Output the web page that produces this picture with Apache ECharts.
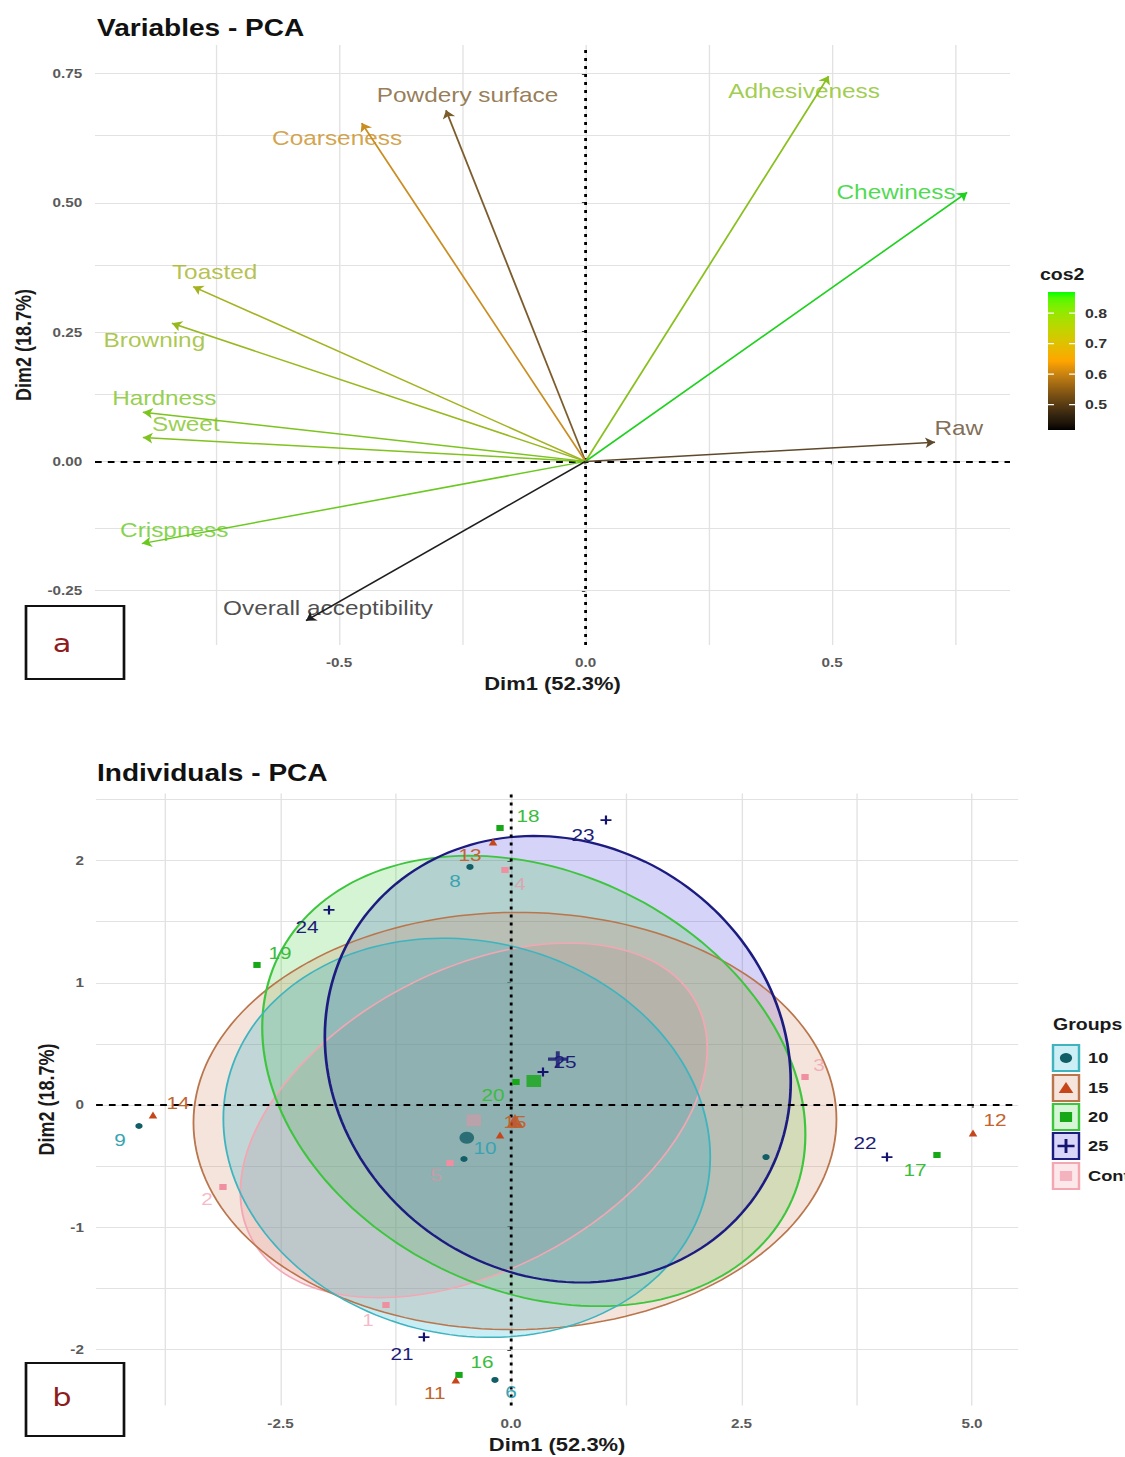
<!DOCTYPE html>
<html lang="en">
<head>
<meta charset="utf-8">
<title>PCA - variables and individuals</title>
<script src="https://cdn.jsdelivr.net/npm/echarts@6.0.0/dist/echarts.min.js"></script>
<style>
  html, body { margin: 0; padding: 0; background: #ffffff; width: 1125px; height: 1457px; overflow: hidden; }
  #chart { width: 922px; height: 1457px; transform: scaleX(1.22); transform-origin: 0 0; }
</style>
</head>
<body>
<div id="chart"></div>
<script>
// The figure is laid out in a narrower space and stretched horizontally by STRETCH.
const STRETCH = 1.22;
const hx = v => v / STRETCH;

// ---------------- Panel a: variables ----------------
const varNames = ['Adhesiveness', 'Chewiness', 'Powdery surface', 'Coarseness', 'Toasted',
  'Browning', 'Hardness', 'Sweet', 'Crispness', 'Overall acceptibility', 'Raw'];
const varDim1 = [0.493, 0.774, -0.283, -0.454, -0.796, -0.839, -0.898, -0.898, -0.900, -0.567, 0.709];
const varDim2 = [0.745, 0.520, 0.679, 0.654, 0.338, 0.267, 0.095, 0.046, -0.159, -0.308, 0.037];

const varXTicks = [-0.5, 0, 0.5];
const varXTickLabels = ['-0.5', '0.0', '0.5'];
const varYTicks = [-0.25, 0, 0.25, 0.5, 0.75];
const varYTickLabels = ['-0.25', '0.00', '0.25', '0.50', '0.75'];
const varGridX = [-0.75, -0.5, -0.25, 0, 0.25, 0.5, 0.75];
const varGridY = [-0.25, -0.125, 0, 0.125, 0.25, 0.375, 0.5, 0.625, 0.75];
const cos2Ticks = [0.5, 0.6, 0.7, 0.8];
const cos2TickLabels = ['0.5', '0.6', '0.7', '0.8'];
const cos2Colours = ['#000000', '#FFA500', '#00FF00'];

// ---------------- Panel b: individuals ----------------
const groupNames = ['10', '15', '20', '25', 'Control'];
const ids10 = [6, 7, 8, 9, 10];
const dim1G10 = [-0.174, 2.766, -0.445, -4.035, -0.510];
const dim2G10 = [-2.250, -0.426, 1.948, -0.172, -0.442];
const ids15 = [11, 12, 13, 14, 15];
const dim1G15 = [-0.599, 5.011, -0.195, -3.883, -0.119];
const dim2G15 = [-2.251, -0.229, 2.152, -0.082, -0.245];
const ids20 = [16, 17, 18, 19, 20];
const dim1G20 = [-0.564, 4.620, -0.119, -2.755, 0.054];
const dim2G20 = [-2.209, -0.409, 2.267, 1.146, 0.188];
const ids25 = [21, 22, 23, 24, 25];
const dim1G25 = [-0.944, 4.078, 1.030, -1.974, 0.347];
const dim2G25 = [-1.899, -0.426, 2.332, 1.596, 0.270];
const idsCtrl = [1, 2, 3, 4, 5];
const dim1Ctrl = [-1.356, -3.124, 3.189, -0.065, -0.662];
const dim2Ctrl = [-1.637, -0.671, 0.229, 1.923, -0.475];

const indXTicks = [-2.5, 0, 2.5, 5];
const indXTickLabels = ['-2.5', '0.0', '2.5', '5.0'];
const indYTicks = [-2, -1, 0, 1, 2];
const indYTickLabels = ['-2', '-1', '0', '1', '2'];
const indGridX = [-3.75, -2.5, -1.25, 0, 1.25, 2.5, 3.75, 5];
const indGridY = [-2, -1.5, -1, -0.5, 0, 0.5, 1, 1.5, 2, 2.5];

// ---------------- layout and style ----------------
const FONT = 'Liberation Sans, Arial, Helvetica, sans-serif';
// label shift from a mark, in figure pixels [dx, dy]
const varLabelShift = [[-24.5, 15], [-71, 0], [21.5, -15], [-24.6, 15], [21.5, -14], [-17.5, 17],
  [21.5, -14], [43, -13], [32.4, -13], [22, -12], [23.7, -13.7]];
const indLabelShift = {
  1: [-18, 15], 2: [-16, 12], 3: [14, -12], 4: [15, 14], 5: [-14, 12],
  6: [16, 12], 7: null, 8: [-15, 14], 9: [-19, 14], 10: [21, -11],
  11: [-21, 13], 12: [22, -13], 13: [-23, 13], 14: [25, -12], 15: [15, -13],
  16: [23, -13], 17: [-22, 15], 18: [28, -12], 19: [23, -12], 20: [-23, 13],
  21: [-22, 17], 22: [-22, -14], 23: [-23, 15], 24: [-22, 17], 25: [22, -10]
};
const PLUS = 'path://M4,0H6V4H10V6H6V10H4V6H0V4H4Z';
const groupLine = ['#3fb4be', '#b9764c', '#3ec53e', '#1c1c80', '#f3a7b3'];
const groupFill = ['#00aacc', '#cf7f55', '#35cc35', '#3a2ee0', '#f2889c'];
const groupLineWidth = [1.5, 1.5, 1.8, 2.2, 1.5];
const groupPoint = ['#125e66', '#c6461a', '#17a817', '#141470', '#ef8fa0'];
const groupText = ['#3aa3b2', '#c2642e', '#3dbb3d', '#1d1d78', 'rgba(238,140,160,0.6)'];
const groupSymbol = ['circle', 'triangle', 'rect', PLUS, 'rect'];
const pointSize = [6, 7, 6, 9, 6];
const meanSize = [12, 14, 12, 16, 12];
// layering of the ellipse fills (bottom first) and of their outlines
const fillOrder = [4, 3, 2, 1, 0];
const outlineOrder = [4, 1, 2, 0, 3];

// ---------------- helpers ----------------
function hexToRgb(h) { const n = parseInt(h.slice(1), 16); return [(n >> 16) & 255, (n >> 8) & 255, n & 255]; }
function rgba(h, a) { const c = hexToRgb(h); return 'rgba(' + c[0] + ',' + c[1] + ',' + c[2] + ',' + a + ')'; }
const toLin = c => { c /= 255; return c <= 0.04045 ? c / 12.92 : Math.pow((c + 0.055) / 1.055, 2.4); };
const fromLin = c => { c = c <= 0.0031308 ? 12.92 * c : 1.055 * Math.pow(Math.max(c, 0), 1 / 2.4) - 0.055; return Math.round(Math.min(1, Math.max(0, c)) * 255); };
const fLab = t => t > 0.008856 ? Math.cbrt(t) : 7.787 * t + 16 / 116;
const fInv = t => t > 0.206893 ? t * t * t : (t - 16 / 116) / 7.787;
function rgbToLab(rgb) {
  const [r, g, b] = rgb.map(toLin);
  const X = (0.4124 * r + 0.3576 * g + 0.1805 * b) / 0.95047;
  const Y = 0.2126 * r + 0.7152 * g + 0.0722 * b;
  const Z = (0.0193 * r + 0.1192 * g + 0.9505 * b) / 1.08883;
  const fx = fLab(X), fy = fLab(Y), fz = fLab(Z);
  return [116 * fy - 16, 500 * (fx - fy), 200 * (fy - fz)];
}
function labToRgb(L, a, b) {
  const fy = (L + 16) / 116, fx = fy + a / 500, fz = fy - b / 200;
  const X = fInv(fx) * 0.95047, Y = fInv(fy), Z = fInv(fz) * 1.08883;
  const r = 3.2406 * X - 1.5372 * Y - 0.4986 * Z;
  const g = -0.9689 * X + 1.8758 * Y + 0.0415 * Z;
  const bb = 0.0557 * X - 0.2040 * Y + 1.0570 * Z;
  return [fromLin(r), fromLin(g), fromLin(bb)];
}
const rgbStr = c => 'rgb(' + c.map(Math.round).join(',') + ')';
const mean = a => a.reduce((s, v) => s + v, 0) / a.length;
function tickFormatter(ticks, labels) {
  return v => { let k = 0, best = Infinity; ticks.forEach((t, i) => { const d = Math.abs(t - v); if (d < best) { best = d; k = i; } }); return labels[k]; };
}

// cos2 of each variable on the Dim1-Dim2 plane, and its colour scale
const cos2 = varDim1.map((x, i) => x * x + varDim2[i] * varDim2[i]);
const cos2Min = Math.min(...cos2), cos2Max = Math.max(...cos2);
const cos2Lab = cos2Colours.map(c => rgbToLab(hexToRgb(c)));
function cos2Rgb(v) {
  let t = (v - cos2Min) / (cos2Max - cos2Min);
  t = Math.min(1, Math.max(0, t));
  const seg = t < 0.5 ? 0 : 1, u = (t - seg * 0.5) / 0.5;
  const A = cos2Lab[seg], B = cos2Lab[seg + 1];
  return labToRgb(A[0] + (B[0] - A[0]) * u, A[1] + (B[1] - A[1]) * u, A[2] + (B[2] - A[2]) * u);
}
const cos2Colour = v => rgbStr(cos2Rgb(v));
// thin arrows and their names are drawn in a softer tone of the same scale
const cos2Ink = v => rgbStr(cos2Rgb(v).map(c => c * 0.7 + 100 * 0.3));

// group data and 95% confidence ellipses around each group mean
const groupIds = [ids10, ids15, ids20, ids25, idsCtrl];
const groupDim1 = [dim1G10, dim1G15, dim1G20, dim1G25, dim1Ctrl];
const groupDim2 = [dim2G10, dim2G15, dim2G20, dim2G25, dim2Ctrl];
const CHI2_95_2DF = 5.991;
function confidenceEllipse(xs, ys, steps) {
  const n = xs.length, mx = mean(xs), my = mean(ys);
  let sxx = 0, syy = 0, sxy = 0;
  for (let i = 0; i < n; i++) { const dx = xs[i] - mx, dy = ys[i] - my; sxx += dx * dx; syy += dy * dy; sxy += dx * dy; }
  const a = sxx / (n - 1) / n, b = sxy / (n - 1) / n, c = syy / (n - 1) / n;
  const l11 = Math.sqrt(a), l21 = b / l11, l22 = Math.sqrt(Math.max(c - l21 * l21, 0));
  const r = Math.sqrt(CHI2_95_2DF);
  const pts = [];
  for (let k = 0; k < steps; k++) {
    const t = 2 * Math.PI * k / steps, u = Math.cos(t), v = Math.sin(t);
    pts.push([mx + r * l11 * u, my + r * (l21 * u + l22 * v)]);
  }
  return pts;
}
const groupMeans = groupDim1.map((xs, g) => [mean(xs), mean(groupDim2[g])]);
const groupEllipses = groupDim1.map((xs, g) => confidenceEllipse(xs, groupDim2[g], 180));

// ---------------- axes ----------------
function makeAxis(isX, gridIndex, min, max, ticks, labels, name, nameGap, labelMargin) {
  const ax = {
    type: 'value', gridIndex, min, max, name, nameLocation: 'middle', nameGap,
    nameTextStyle: { fontFamily: FONT, fontSize: 18, fontWeight: 'bold', color: '#1a1a1a' },
    axisLine: { show: false },
    splitLine: { show: false },
    axisTick: { show: true, customValues: ticks, length: 3, lineStyle: { color: '#444444', width: 2 } },
    axisLabel: { customValues: ticks, formatter: tickFormatter(ticks, labels), fontFamily: FONT, fontSize: 12.5, fontWeight: 'bold', color: '#5a5a5a', margin: labelMargin }
  };
  if (!isX) ax.nameRotate = 90;
  return ax;
}

// ---------------- series ----------------
function gridLineSeries(xi, gx, gy) {
  return {
    type: 'line', xAxisIndex: xi, yAxisIndex: xi, data: [], silent: true,
    markLine: {
      z: 1, silent: true, symbol: ['none', 'none'], label: { show: false }, animation: false,
      lineStyle: { color: '#e2e2e2', width: 1.1, type: 'solid' },
      data: gx.map(v => ({ xAxis: v })).concat(gy.map(v => ({ yAxis: v })))
    }
  };
}
function zeroLineSeries(xi) {
  return {
    type: 'line', xAxisIndex: xi, yAxisIndex: xi, data: [], silent: true,
    markLine: {
      z: 3, silent: true, symbol: ['none', 'none'], label: { show: false }, animation: false,
      data: [
        { xAxis: 0, lineStyle: { color: '#000000', width: 2.3, type: [3, 5] } },
        { yAxis: 0, lineStyle: { color: '#000000', width: 2.2, type: [5.5, 5] } }
      ]
    }
  };
}
function ellipseSeries(order, z, asOutline) {
  return {
    type: 'custom', xAxisIndex: 1, yAxisIndex: 1, z, silent: true,
    data: order.map(g => groupMeans[g].slice()),
    renderItem: (params, api) => {
      const g = order[params.dataIndex];
      return {
        type: 'polygon',
        shape: { points: groupEllipses[g].map(p => api.coord(p)) },
        style: asOutline
          ? { fill: 'none', stroke: groupLine[g], lineWidth: groupLineWidth[g] }
          : { fill: rgba(groupFill[g], 0.21), stroke: 'none' }
      };
    }
  };
}

const series = [];
series.push(gridLineSeries(0, varGridX, varGridY));
series.push(zeroLineSeries(0));
series.push({
  type: 'lines', coordinateSystem: 'cartesian2d', xAxisIndex: 0, yAxisIndex: 0, z: 4,
  symbol: ['none', 'arrow'], symbolSize: 8, silent: true,
  lineStyle: { width: 1.5, opacity: 1 },
  data: varNames.map((n, i) => ({ coords: [[0, 0], [varDim1[i], varDim2[i]]], lineStyle: { color: cos2Ink(cos2[i]) } }))
});
series.push({
  type: 'scatter', xAxisIndex: 0, yAxisIndex: 0, z: 6, symbolSize: 1, silent: true,
  itemStyle: { color: 'rgba(0,0,0,0)' },
  label: { show: true, position: 'inside', formatter: '{b}', fontFamily: FONT, fontSize: 20 },
  data: varNames.map((n, i) => ({
    name: n, value: [varDim1[i], varDim2[i]],
    label: { offset: [hx(varLabelShift[i][0]), varLabelShift[i][1]], color: cos2Ink(cos2[i]) }
  }))
});

series.push(gridLineSeries(1, indGridX, indGridY));
series.push(ellipseSeries(fillOrder, 2, false));
series.push(ellipseSeries(outlineOrder, 2.5, true));
series.push(zeroLineSeries(1));
groupNames.forEach((gName, g) => {
  series.push({
    type: 'scatter', name: gName, xAxisIndex: 1, yAxisIndex: 1, z: 5, silent: true,
    symbol: groupSymbol[g], symbolSize: pointSize[g],
    itemStyle: { color: groupPoint[g], opacity: 1 },
    label: { show: true, position: 'inside', formatter: '{b}', fontFamily: FONT, fontSize: 17, color: groupText[g] },
    data: groupIds[g].map((id, i) => {
      const sh = indLabelShift[id];
      return {
        name: String(id), value: [groupDim1[g][i], groupDim2[g][i]],
        label: sh ? { offset: [hx(sh[0]), sh[1]] } : { show: false }
      };
    })
  });
});
series.push({
  type: 'scatter', xAxisIndex: 1, yAxisIndex: 1, z: 5, silent: true,
  data: groupMeans.map((m, g) => ({
    value: m, symbol: groupSymbol[g], symbolSize: meanSize[g],
    itemStyle: { color: g === 4 ? rgba(groupPoint[g], 0.55) : groupPoint[g] }
  }))
});

// ---------------- annotations and legends ----------------
const graphics = [];
function text(x, y, str, font, fill, align) {
  graphics.push({
    type: 'text', silent: true, z: 10,
    style: { x, y, text: str, font, fill, align: align || 'left', textAlign: align || 'left', verticalAlign: 'middle', textVerticalAlign: 'middle' }
  });
}
text(hx(97), 28, 'Variables - PCA', 'bold 23px ' + FONT, '#111111');
text(hx(97), 773, 'Individuals - PCA', 'bold 23px ' + FONT, '#111111');

// panel tags
[['a', 606, 643], ['b', 1363, 1397]].forEach(([tag, top, cy]) => {
  graphics.push({ type: 'rect', silent: true, z: 10, shape: { x: hx(26), y: top, width: hx(98), height: 73 },
    style: { fill: '#ffffff', stroke: '#111111', lineWidth: 2.2 } });
  text(hx(62), cy, tag, '25px DejaVu Sans, sans-serif', '#8e1c1c', 'center');
});

// cos2 colour bar
const barX = hx(1048), barW = hx(27), barTop = 292, barH = 138;
const barStops = [];
for (let k = 0; k <= 24; k++) { const v = cos2Max - (cos2Max - cos2Min) * k / 24; barStops.push({ offset: k / 24, color: cos2Colour(v) }); }
text(hx(1040), 275, 'cos2', 'bold 16px ' + FONT, '#1a1a1a');
graphics.push({ type: 'rect', silent: true, z: 10, shape: { x: barX, y: barTop, width: barW, height: barH },
  style: { fill: { type: 'linear', x: 0, y: 0, x2: 0, y2: 1, colorStops: barStops } } });
cos2Ticks.forEach((v, i) => {
  const y = barTop + (cos2Max - v) / (cos2Max - cos2Min) * barH;
  graphics.push({ type: 'line', silent: true, z: 11, shape: { x1: barX, y1: y, x2: barX + barW * 0.22, y2: y }, style: { stroke: '#ffffff', lineWidth: 1.2 } });
  graphics.push({ type: 'line', silent: true, z: 11, shape: { x1: barX + barW * 0.78, y1: y, x2: barX + barW, y2: y }, style: { stroke: '#ffffff', lineWidth: 1.2 } });
  text(hx(1085), y, cos2TickLabels[i], 'bold 13px ' + FONT, '#333333');
});

// groups legend
text(hx(1053), 1025, 'Groups', 'bold 16px ' + FONT, '#1a1a1a');
const keyRows = [1058, 1088, 1117, 1146, 1176];
groupNames.forEach((gName, g) => {
  const cy = keyRows[g], kx = hx(1053), kw = hx(26), cx = kx + kw / 2;
  graphics.push({ type: 'rect', silent: true, z: 10, shape: { x: kx, y: cy - 13, width: kw, height: 26 },
    style: { fill: rgba(groupFill[g], 0.2), stroke: groupLine[g], lineWidth: 2 } });
  const s = 5;
  let sym;
  if (g === 0) sym = { type: 'circle', shape: { cx, cy, r: s } };
  else if (g === 1) sym = { type: 'polygon', shape: { points: [[cx, cy - s - 1], [cx + s + 1, cy + s], [cx - s - 1, cy + s]] } };
  else if (g === 2) sym = { type: 'rect', shape: { x: cx - s, y: cy - s, width: 2 * s, height: 2 * s } };
  else if (g === 3) sym = { type: 'polygon', shape: { points: [[cx - 1.2, cy - 7], [cx + 1.2, cy - 7], [cx + 1.2, cy - 1.2], [cx + 7, cy - 1.2], [cx + 7, cy + 1.2], [cx + 1.2, cy + 1.2], [cx + 1.2, cy + 7], [cx - 1.2, cy + 7], [cx - 1.2, cy + 1.2], [cx - 7, cy + 1.2], [cx - 7, cy - 1.2], [cx - 1.2, cy - 1.2]] } };
  else sym = { type: 'rect', shape: { x: cx - s, y: cy - s, width: 2 * s, height: 2 * s } };
  sym.silent = true; sym.z = 11;
  sym.style = { fill: g === 4 ? rgba(groupPoint[g], 0.6) : groupPoint[g] };
  graphics.push(sym);
  text(hx(1088), cy, gName, 'bold 15px ' + FONT, '#1a1a1a');
});

const option = {
  animation: false,
  backgroundColor: '#ffffff',
  textStyle: { fontFamily: FONT },
  grid: [
    { left: hx(95), top: 45, width: hx(915), height: 600, containLabel: false, outerBoundsMode: 'none' },
    { left: hx(96.1), top: 793.4, width: hx(922), height: 612.2, containLabel: false, outerBoundsMode: 'none' }
  ],
  xAxis: [
    makeAxis(true, 0, -0.995, 0.861, varXTicks, varXTickLabels, 'Dim1 (52.3%)', 30, 11),
    makeAxis(true, 1, -4.5, 5.5, indXTicks, indXTickLabels, 'Dim1 (52.3%)', 30, 11)
  ],
  yAxis: [
    makeAxis(false, 0, -0.355, 0.805, varYTicks, varYTickLabels, 'Dim2 (18.7%)', 49, 10.5),
    makeAxis(false, 1, -2.46, 2.55, indYTicks, indYTickLabels, 'Dim2 (18.7%)', 28, 10)
  ],
  series,
  graphic: { elements: graphics }
};

const chart = echarts.init(document.getElementById('chart'), null, { renderer: 'svg' });
chart.setOption(option);
</script>
</body>
</html>
